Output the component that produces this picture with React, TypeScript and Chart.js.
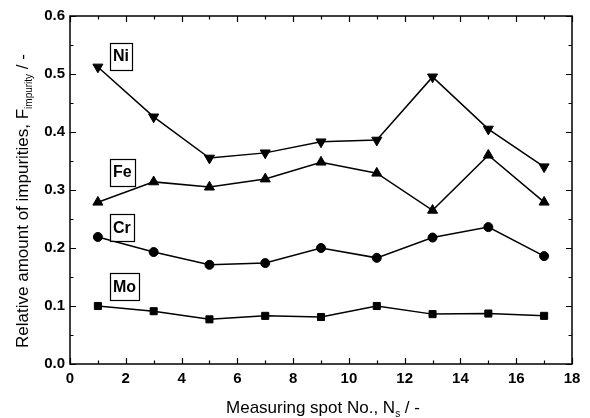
import React, { useEffect, useRef } from "react";
import { Chart, registerables } from "chart.js";

Chart.register(...registerables);

const spots = [1, 3, 5, 7, 9, 11, 13, 15, 17];
const niValues = [0.512, 0.426, 0.355, 0.364, 0.383, 0.386, 0.495, 0.405, 0.34];
const feValues = [0.279, 0.314, 0.305, 0.319, 0.348, 0.329, 0.265, 0.36, 0.279];
const crValues = [0.219, 0.193, 0.171, 0.174, 0.2, 0.183, 0.218, 0.236, 0.186];
const moValues = [0.1, 0.091, 0.077, 0.083, 0.081, 0.1, 0.086, 0.087, 0.083];

const seriesNames = ["Ni", "Fe", "Cr", "Mo"];
// label anchors in data coordinates: [x of box left, y of box centre]
const labelAnchors: [number, number][] = [
  [1.43, 0.531],
  [1.43, 0.331],
  [1.43, 0.236],
  [1.43, 0.133],
];

const xTitleMain = "Measuring spot No., N";
const xTitleSub = "s";
const xTitleTail = " / -";
const yTitleMain = "Relative amount of impurities, F";
const yTitleSub = "impurity";
const yTitleTail = " / -";

const FONT = "'Liberation Sans', Arial, Helvetica, sans-serif";

const decorPlugin = {
  id: "decor",
  afterDraw(chart: any) {
    const ctx = chart.ctx;
    const xs = chart.scales.x;
    const ys = chart.scales.y;
    const { left, right, top, bottom } = chart.chartArea;
    ctx.save();
    ctx.strokeStyle = "#000";
    ctx.lineWidth = 1.5;
    ctx.strokeRect(left, top, right - left, bottom - top);
    ctx.lineWidth = 1.2;
    ctx.beginPath();
    for (let v = 0; v <= 18; v += 1) {
      const px = Math.round(xs.getPixelForValue(v)) + 0.5;
      const len = v % 2 === 0 ? 6 : 3.5;
      ctx.moveTo(px, bottom);
      ctx.lineTo(px, bottom - len);
      ctx.moveTo(px, top);
      ctx.lineTo(px, top + len);
    }
    for (let i = 0; i <= 12; i++) {
      const v = i * 0.05;
      const py = Math.round(ys.getPixelForValue(v)) + 0.5;
      const len = i % 2 === 0 ? 6 : 3.5;
      ctx.moveTo(left, py);
      ctx.lineTo(left + len, py);
      ctx.moveTo(right, py);
      ctx.lineTo(right - len, py);
    }
    ctx.stroke();

    // series labels
    ctx.font = `bold 16px ${FONT}`;
    ctx.textBaseline = "middle";
    ctx.textAlign = "left";
    seriesNames.forEach((name, i) => {
      const bx = xs.getPixelForValue(labelAnchors[i][0]);
      const cy = ys.getPixelForValue(labelAnchors[i][1]);
      const w = ctx.measureText(name).width;
      const bw = w + 6;
      const bh = 27;
      ctx.fillStyle = "#fff";
      ctx.fillRect(bx, cy - bh / 2, bw, bh);
      ctx.lineWidth = 1.2;
      ctx.strokeRect(Math.round(bx) + 0.5, Math.round(cy - bh / 2) + 0.5, Math.round(bw), bh);
      ctx.fillStyle = "#000";
      ctx.fillText(name, bx + 3, cy + 1);
    });

    // x title
    ctx.textBaseline = "alphabetic";
    const mainF = `17px ${FONT}`;
    const subF = `10px ${FONT}`;
    ctx.font = mainF;
    const w1 = ctx.measureText(xTitleMain).width;
    const w3 = ctx.measureText(xTitleTail).width;
    ctx.font = subF;
    const w2 = ctx.measureText(xTitleSub).width;
    const xc = (left + right) / 2 + 2;
    let sx = xc - (w1 + w2 + w3) / 2;
    const by = 413;
    ctx.font = mainF;
    ctx.fillText(xTitleMain, sx, by);
    sx += w1;
    ctx.font = subF;
    ctx.fillText(xTitleSub, sx, by + 4);
    sx += w2;
    ctx.font = mainF;
    ctx.fillText(xTitleTail, sx, by);

    // y title
    ctx.translate(28, 201);
    ctx.rotate(-Math.PI / 2);
    ctx.font = mainF;
    const v1 = ctx.measureText(yTitleMain).width;
    const v3 = ctx.measureText(yTitleTail).width;
    ctx.font = subF;
    const v2 = ctx.measureText(yTitleSub).width;
    let sy = -(v1 + v2 + v3) / 2;
    ctx.font = mainF;
    ctx.fillText(yTitleMain, sy, 0);
    sy += v1;
    ctx.font = subF;
    ctx.fillText(yTitleSub, sy, 4);
    sy += v2;
    ctx.font = mainF;
    ctx.fillText(yTitleTail, sy, 0);
    ctx.restore();
  },
};

function mk(values: number[], style: string, rotation: number, radius: number) {
  return {
    data: spots.map((x, i) => ({ x, y: values[i] })),
    borderColor: "#000",
    backgroundColor: "#000",
    borderWidth: 1.5,
    pointStyle: style,
    pointRotation: rotation,
    pointRadius: radius,
    pointBorderWidth: 1,
    pointBackgroundColor: "#000",
    pointBorderColor: "#000",
    showLine: true,
    tension: 0,
  };
}

export default function App() {
  const ref = useRef<HTMLCanvasElement>(null);
  useEffect(() => {
    document.body.style.margin = "0";
    const chart = new Chart(ref.current as HTMLCanvasElement, {
      type: "scatter",
      data: {
        datasets: [
          mk(niValues, "triangle", 180, 5.8),
          mk(feValues, "triangle", 0, 5.8),
          mk(crValues, "circle", 0, 4.5),
          mk(moValues, "rect", 0, 5),
        ] as any,
      },
      options: {
        animation: false,
        responsive: false,
        devicePixelRatio: 1,
        layout: { padding: { top: 16, right: 18, left: 0, bottom: 0 } },
        plugins: { legend: { display: false }, tooltip: { enabled: false } },
        scales: {
          x: {
            type: "linear",
            min: 0,
            max: 18,
            grid: { display: false, drawTicks: false },
            border: { display: false },
            ticks: {
              stepSize: 2,
              padding: 6,
              color: "#000",
              font: { family: FONT, size: 15, weight: "bold" },
              maxRotation: 0,
            },
            afterFit: (s: any) => {
              s.height = 54;
            },
          },
          y: {
            type: "linear",
            min: 0,
            max: 0.6,
            grid: { display: false, drawTicks: false },
            border: { display: false },
            ticks: {
              stepSize: 0.1,
              padding: 5,
              color: "#000",
              font: { family: FONT, size: 15, weight: "bold" },
              callback: (v: any) => Number(v).toFixed(1),
            },
            afterFit: (s: any) => {
              s.width = 70;
            },
          },
        },
      } as any,
      plugins: [decorPlugin],
    });
    return () => chart.destroy();
  }, []);
  return (
    <div style={{ position: "absolute", left: 0, top: 0, width: 590, height: 418, background: "#fff" }}>
      <canvas ref={ref} width={590} height={418} style={{ width: 590, height: 418 }} />
    </div>
  );
}
